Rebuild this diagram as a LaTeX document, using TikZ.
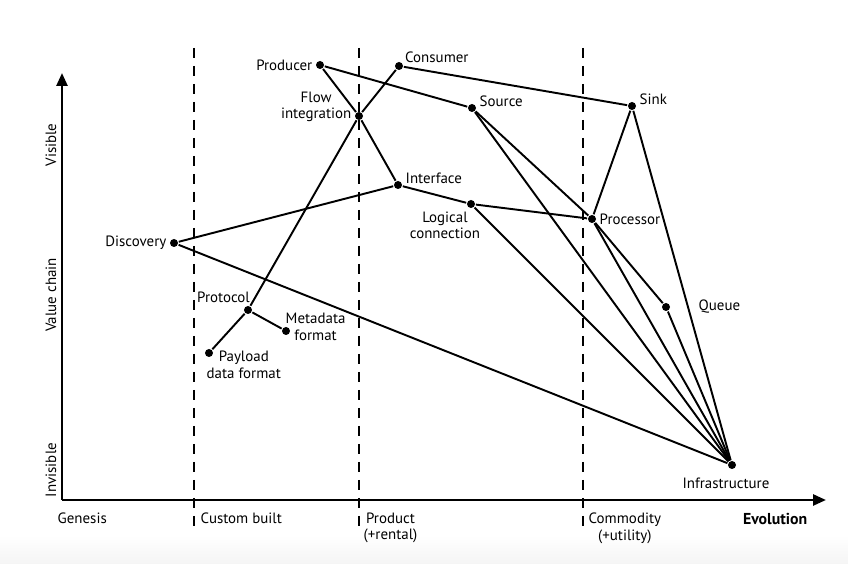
\documentclass[tikz,border=0pt]{standalone}
\usepackage{fontspec}
\setmainfont{PT Sans}
\usetikzlibrary{arrows.meta}

\begin{document}
\begin{tikzpicture}[line width=1.1pt, font=\fontsize{8.5}{9.5}\selectfont]
  \tikzstyle{dot}=[circle, fill, inner sep=0pt, minimum size=1.6mm]
  \tikzstyle{lbl}=[inner sep=1pt, align=center]
  \tikzstyle{phase}=[dash pattern=on 2mm off 1.6mm, line width=1pt]
  \tikzstyle{axis}=[line width=1.5pt, -{Triangle[length=2.6mm,width=2.2mm]}]
  \useasboundingbox (-1.24,-1.28) rectangle (15.72,10.0);
  \shade[top color=white, bottom color=gray!8, draw=none] (-1.24,-1.28) rectangle (15.72,-0.7);

  % axes
  \coordinate (O) at (0,0);
  \coordinate (Ytop) at (0,8.54);
  \coordinate (Xend) at (15.28,0);
  \draw[axis] (O) -- (Ytop);
  \draw[axis] (O) -- (Xend);

  % evolution stages
  \coordinate (cb_t) at (2.64,9.04);
  \coordinate (cb_b) at (2.64,-0.56);
  \coordinate (pr_t) at (5.94,9.04);
  \coordinate (pr_b) at (5.94,-0.56);
  \coordinate (cm_t) at (10.42,9.04);
  \coordinate (cm_b) at (10.42,-0.56);
  \draw[phase] (cb_t) -- (cb_b);
  \draw[phase] (pr_t) -- (pr_b);
  \draw[phase] (cm_t) -- (cm_b);

  \node[rotate=90] (visible) at (-0.22,7.1) {Visible};
  \node[rotate=90] (valuechain) at (-0.22,4.1) {Value chain};
  \node[rotate=90] (invisible) at (-0.22,0.6) {Invisible};
  \node[lbl, anchor=north west] (genesis) at (-0.14,-0.2) {Genesis};
  \node[lbl, anchor=north west] (custom) at (2.72,-0.2) {Custom built};
  \node[lbl, anchor=north west] (product) at (5.98,-0.2) {Product\\(+rental)};
  \node[lbl, anchor=north west] (commodity) at (10.48,-0.2) {Commodity\\(+utility)};
  \node[lbl, anchor=north east, font=\fontsize{9}{10}\selectfont\bfseries] (evolution) at (14.96,-0.22) {Evolution};

  % components
  \node[dot, label={[lbl]left:Producer}] (producer) at (5.16,8.70) {};
  \node[dot, label={[lbl, anchor=south west, yshift=-0.6mm]north east:Consumer}] (consumer) at (6.74,8.68) {};
  \node[dot, label={[lbl, yshift=1.8mm]left:Flow\\integration}] (flow) at (5.94,7.68) {};
  \node[dot, label={[lbl, yshift=1.4mm]right:Source}] (source) at (8.20,7.84) {};
  \node[dot, label={[lbl, yshift=1.4mm]right:Sink}] (sink) at (11.40,7.88) {};
  \node[dot, label={[lbl, yshift=1.4mm]right:Interface}] (interface) at (6.72,6.30) {};
  \node[dot, label={[lbl, xshift=-5.2mm]below:Logical\\connection}] (logical) at (8.18,5.92) {};
  \node[dot, label={[lbl]right:Processor}] (processor) at (10.60,5.62) {};
  \node[dot, label={[lbl]left:Discovery}] (discovery) at (2.24,5.14) {};
  \node[dot, label={[lbl, xshift=-4.9mm]above:Protocol}] (protocol) at (3.72,3.80) {};
  \node[dot, label={[lbl, xshift=-1.6mm, yshift=0.8mm]right:Metadata\\format}] (metadata) at (4.48,3.38) {};
  \node[dot, label={[lbl, xshift=-2mm, yshift=-2.4mm]right:Payload\\data format}] (payload) at (2.94,2.94) {};
  \node[dot, label={[lbl, label distance=5mm]right:Queue}] (queue) at (12.08,3.86) {};
  \node[dot, label={[lbl, xshift=-1.2mm, label distance=1mm]below:Infrastructure}] (infra) at (13.40,0.70) {};

  \draw (producer) -- (flow);
  \draw (flow) -- (interface);
  \draw (consumer) -- (flow);
  \draw (flow) -- (protocol);
  \draw (producer) -- (source);
  \draw (consumer) -- (sink);
  \draw (source) -- (processor);
  \draw (source) -- (infra);
  \draw (sink) -- (processor);
  \draw (sink) -- (infra);
  \draw (discovery) -- (interface);
  \draw (discovery) -- (infra);
  \draw (interface) -- (logical);
  \draw (logical) -- (processor);
  \draw (logical) -- (infra);
  \draw (processor) -- (queue);
  \draw (processor) -- (infra);
  \draw (queue) -- (infra);
  \draw (protocol) -- (metadata);
  \draw (protocol) -- (payload);
\end{tikzpicture}
\end{document}
